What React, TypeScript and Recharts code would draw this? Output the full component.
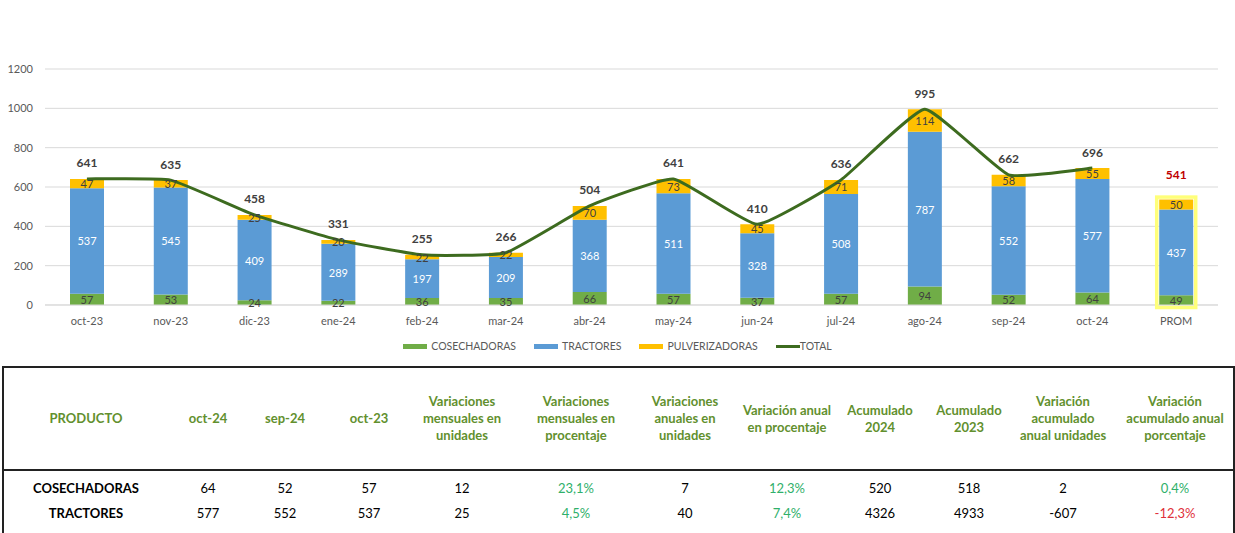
import React from 'react';
import { ComposedChart, Bar, Line, XAxis, YAxis, CartesianGrid, LabelList } from 'recharts';

const categories = ['oct-23', 'nov-23', 'dic-23', 'ene-24', 'feb-24', 'mar-24', 'abr-24', 'may-24', 'jun-24', 'jul-24', 'ago-24', 'sep-24', 'oct-24', 'PROM'];
const cosechadoras = [57, 53, 24, 22, 36, 35, 66, 57, 37, 57, 94, 52, 64, 49];
const tractores = [537, 545, 409, 289, 197, 209, 368, 511, 328, 508, 787, 552, 577, 437];
const pulverizadoras = [47, 37, 25, 20, 22, 22, 70, 73, 45, 71, 114, 58, 55, 50];
const totalLine: (number | null)[] = [641, 635, 458, 331, 255, 266, 504, 641, 410, 636, 995, 662, 696, null];
const totalLabels = [641, 635, 458, 331, 255, 266, 504, 641, 410, 636, 995, 662, 696, 541];
const yTicks = [0, 200, 400, 600, 800, 1000, 1200];

const tableHeaders = [
  'PRODUCTO', 'oct-24', 'sep-24', 'oct-23',
  'Variaciones\nmensuales en\nunidades',
  'Variaciones\nmensuales en\nprocentaje',
  'Variaciones\nanuales en\nunidades',
  'Variación anual\nen procentaje',
  'Acumulado\n2024', 'Acumulado\n2023',
  'Variación\nacumulado\nanual unidades',
  'Variación\nacumulado anual\nporcentaje',
];
const rowCosechadoras = ['COSECHADORAS', '64', '52', '57', '12', '23,1%', '7', '12,3%', '520', '518', '2', '0,4%'];
const rowTractores = ['TRACTORES', '577', '552', '537', '25', '4,5%', '40', '7,4%', '4326', '4933', '-607', '-12,3%'];

const colCenters = [86, 208, 285, 369, 462, 576, 685, 787, 880, 969, 1063, 1175];

const data = categories.map((c, i) => ({
  name: c,
  cos: cosechadoras[i],
  tra: tractores[i],
  pul: pulverizadoras[i],
  total: totalLine[i],
}));

const FONT = 'Lato, "Open Sans", sans-serif';
const GREEN = '#70AD47';
const BLUE = '#5B9BD5';
const YELLOW = '#FFC000';
const LINE = '#3D6B1F';

const SMOOTH = 0.065;
const excelCurve = (context: any) => {
  let pts: number[][] = [];
  return {
    areaStart() {},
    areaEnd() {},
    lineStart() { pts = []; },
    point(x: number, y: number) { pts.push([+x, +y]); },
    lineEnd() {
      const n = pts.length;
      if (!n) return;
      context.moveTo(pts[0][0], pts[0][1]);
      for (let i = 0; i < n - 1; i++) {
        const p0 = pts[Math.max(i - 1, 0)];
        const p1 = pts[i];
        const p2 = pts[i + 1];
        const p3 = pts[Math.min(i + 2, n - 1)];
        context.bezierCurveTo(
          p1[0] + (p2[0] - p0[0]) * SMOOTH, p1[1] + (p2[1] - p0[1]) * SMOOTH,
          p2[0] - (p3[0] - p1[0]) * SMOOTH, p2[1] - (p3[1] - p1[1]) * SMOOTH,
          p2[0], p2[1]
        );
      }
    },
  };
};

const centerLabel = (color: string) => (props: any) => {
  const { x, y, width, height, value } = props;
  return (
    <text x={x + width / 2} y={y + height / 2} textAnchor="middle" dominantBaseline="central"
      fontFamily={FONT} fontSize={11} fill={color}>{value}</text>
  );
};

const TopLabel = (props: any) => {
  const { x, y, width, height, index, value } = props;
  const isProm = categories[index] === 'PROM';
  const stackTop = cosechadoras[index] + tractores[index] + pulverizadoras[index];
  const bottom = y + (height * stackTop) / value;
  return (
    <g>
      {isProm && (
        <rect x={x - 2.5} y={y - 2.5} width={width + 5} height={bottom - y + 5}
          fill="none" stroke="#FFFF7A" strokeWidth={3.5} />
      )}
      <text x={x + width / 2} y={y - (isProm ? 25 : 16)} textAnchor="middle" dominantBaseline="central"
        fontFamily={FONT} fontSize={12} fontWeight={700} fill={isProm ? '#C00000' : '#404040'}>
        {totalLabels[index]}
      </text>
    </g>
  );
};

const legendItems = [
  { label: 'COSECHADORAS', color: GREEN, kind: 'bar' },
  { label: 'TRACTORES', color: BLUE, kind: 'bar' },
  { label: 'PULVERIZADORAS', color: YELLOW, kind: 'bar' },
  { label: 'TOTAL', color: LINE, kind: 'line' },
];

const pctColor = (s: string) => (s.startsWith('-') ? '#E0303A' : '#2FB06A');
const pctCols = [5, 7, 11];

export default function App() {
  return (
    <div style={{ position: 'relative', width: 1235, height: 533, overflow: 'hidden', background: '#fff', fontFamily: FONT }}>
      <style>{'body{margin:0;background:#fff}'}</style>
      <div style={{ position: 'absolute', left: 0, top: 0 }}>
        <ComposedChart width={1235} height={335} data={data} margin={{ top: 69, right: 17, bottom: 0, left: 0 }}>
          <CartesianGrid vertical={false} stroke="#D9D9D9" />
          <XAxis dataKey="name" height={30} tickLine={false} axisLine={{ stroke: '#D9D9D9' }}
            tick={{ fontSize: 11, fill: '#595959', fontFamily: FONT }} tickMargin={6} />
          <YAxis domain={[0, 1200]} ticks={yTicks} width={45} axisLine={false} tickLine={false}
            tick={{ fontSize: 11, fill: '#595959', fontFamily: FONT }} tickMargin={6} />
          <Bar dataKey="cos" stackId="a" fill={GREEN} barSize={34} isAnimationActive={false}>
            <LabelList dataKey="cos" content={centerLabel('#404040')} />
          </Bar>
          <Bar dataKey="tra" stackId="a" fill={BLUE} barSize={34} isAnimationActive={false}>
            <LabelList dataKey="tra" content={centerLabel('#FFFFFF')} />
          </Bar>
          <Bar dataKey="pul" stackId="a" fill={YELLOW} barSize={34} isAnimationActive={false}>
            <LabelList dataKey="pul" content={centerLabel('#404040')} />
            <LabelList dataKey="pul" content={TopLabel} />
          </Bar>
          <Line dataKey="total" type={excelCurve as any} stroke={LINE} strokeWidth={3} dot={false}
            activeDot={false} isAnimationActive={false} />
        </ComposedChart>
      </div>

      <div style={{ position: 'absolute', top: 340, left: 0, width: 1235, display: 'flex', justifyContent: 'center', alignItems: 'center', gap: 18, fontSize: 10.5, color: '#595959' }}>
        {legendItems.map((it) => (
          <div key={it.label} style={{ display: 'flex', alignItems: 'center' }}>
            <span style={{ display: 'inline-block', width: 24, height: it.kind === 'bar' ? 5 : 3, background: it.color, marginRight: it.kind === 'bar' ? 4 : 0 }} />
            <span>{it.label}</span>
          </div>
        ))}
      </div>

      <div style={{ position: 'absolute', left: 2, top: 366, width: 1229, height: 180, borderTop: '2px solid #222', borderLeft: '2px solid #222', borderRight: '2px solid #222' }} />
      <div style={{ position: 'absolute', left: 2, top: 469, width: 1233, height: 0, borderTop: '2px solid #222' }} />

      {tableHeaders.map((h, i) => (
        <div key={'h' + i} style={{ position: 'absolute', left: colCenters[i] - 70, width: 140, top: 368, height: 101, display: 'flex', alignItems: 'center', justifyContent: 'center', textAlign: 'center', whiteSpace: 'pre-line', fontWeight: 700, fontSize: 13, lineHeight: '17px', color: '#62902E' }}>
          {h}
        </div>
      ))}
      {[rowCosechadoras, rowTractores].map((row, r) => (
        row.map((v, i) => (
          <div key={'r' + r + '-' + i} style={{ position: 'absolute', left: colCenters[i] - 70, width: 140, top: 479 + r * 25, height: 18, lineHeight: '18px', textAlign: 'center', fontSize: 13, fontWeight: i === 0 ? 700 : 400, color: pctCols.includes(i) ? pctColor(v) : '#000' }}>
            {v}
          </div>
        ))
      ))}
    </div>
  );
}
